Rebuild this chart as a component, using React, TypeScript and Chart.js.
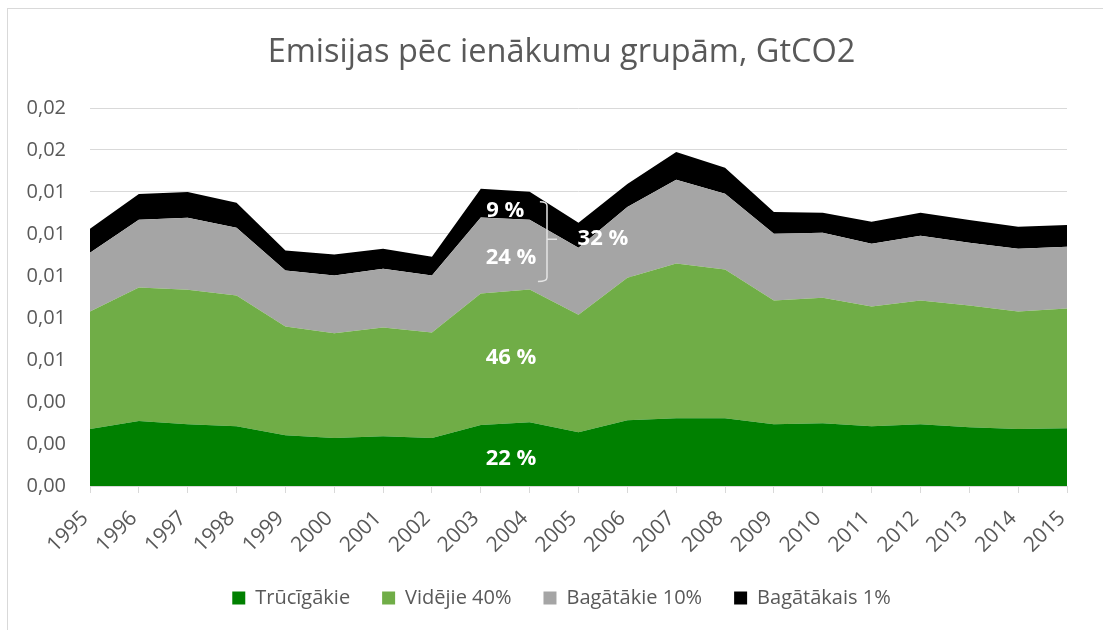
import React, { useEffect, useRef } from "react";
import { Chart, registerables } from "chart.js";

Chart.register(...registerables);

const years = ["1995","1996","1997","1998","1999","2000","2001","2002","2003","2004","2005","2006","2007","2008","2009","2010","2011","2012","2013","2014","2015"];

const trucigakie = [0.00271,0.00309,0.00294,0.00285,0.00242,0.00228,0.00237,0.00228,0.0029,0.00304,0.00256,0.00313,0.00323,0.00323,0.00294,0.00299,0.00285,0.00294,0.0028,0.00271,0.00275];
const videjie40 = [0.0056,0.00636,0.00641,0.00622,0.00518,0.00499,0.00518,0.00503,0.00627,0.00632,0.0056,0.00679,0.00736,0.00708,0.00589,0.00598,0.0057,0.00589,0.00579,0.0056,0.0057];
const bagatakie10 = [0.0028,0.00323,0.00342,0.00323,0.00266,0.00275,0.0028,0.00271,0.00361,0.00332,0.00318,0.00337,0.00399,0.00361,0.00318,0.00309,0.00299,0.00309,0.00299,0.00299,0.00294];
const bagatakais1 = [0.00114,0.00123,0.00123,0.00119,0.00095,0.001,0.00095,0.0009,0.00138,0.00133,0.00119,0.00109,0.00133,0.00123,0.00104,0.00095,0.00104,0.00109,0.00109,0.00104,0.00104];

const seriesNames = ["Trūcīgākie", "Vidējie 40%", "Bagātākie 10%", "Bagātākais 1%"];
const yTickLabels = ["0,00","0,00","0,00","0,01","0,01","0,01","0,01","0,01","0,02","0,02"];

// share annotations (text, x as year index, y as value)
const shareLabels = ["22 %", "46 %", "24 %", "9 %", "32 %"];
const shareLabelX = [8.62, 8.62, 8.62, 8.5, 10.5];
const shareLabelY = [0.00128, 0.00613, 0.01087, 0.0131, 0.01178];

// bracket (x as year index, y as value)
const bracketX = [9.21, 9.355, 9.56];
const bracketY = [0.013533, 0.011752, 0.009734];

const TEXT = "#595959";
const FONT = "'Open Sans', sans-serif";

const annotationPlugin = {
  id: "shareAnnotations",
  afterDatasetsDraw(chart: any) {
    const { ctx, scales } = chart;
    const x = scales.x;
    const y = scales.y;
    ctx.save();
    ctx.fillStyle = "#ffffff";
    ctx.font = `bold 22px ${FONT}`;
    ctx.textAlign = "center";
    ctx.textBaseline = "middle";
    shareLabels.forEach((t, i) => {
      ctx.fillText(t, x.getPixelForValue(shareLabelX[i]), y.getPixelForValue(shareLabelY[i]));
    });
    const xl = x.getPixelForValue(bracketX[0]);
    const xm = x.getPixelForValue(bracketX[1]);
    const xr = x.getPixelForValue(bracketX[2]);
    const yt = y.getPixelForValue(bracketY[0]);
    const ym = y.getPixelForValue(bracketY[1]);
    const yb = y.getPixelForValue(bracketY[2]);
    ctx.strokeStyle = "#e4e4e4";
    ctx.lineWidth = 1.5;
    ctx.beginPath();
    ctx.moveTo(xl, yt);
    ctx.quadraticCurveTo(xm, yt, xm, yt + 4);
    ctx.lineTo(xm, yb - 4);
    ctx.quadraticCurveTo(xm, yb, xl - 2, yb);
    ctx.moveTo(xm, ym);
    ctx.lineTo(xr, ym);
    ctx.stroke();
    ctx.restore();
  },
};

export default function App() {
  const ref = useRef<HTMLCanvasElement>(null);
  useEffect(() => {
    Chart.defaults.font.family = FONT;
    Chart.defaults.color = TEXT;
    const colors = ["#008000", "#70AD47", "#A5A5A5", "#000000"];
    const values = [trucigakie, videjie40, bagatakie10, bagatakais1];
    const chart = new Chart(ref.current!, {
      type: "line",
      data: {
        labels: years,
        datasets: values.map((d, i) => ({
          label: seriesNames[i],
          data: d,
          backgroundColor: colors[i],
          borderColor: colors[i],
          borderWidth: 0,
          pointRadius: 0,
          fill: i === 0 ? "origin" : "-1",
          tension: 0,
        })),
      },
      options: {
        responsive: false,
        animation: false,
        layout: { padding: { left: 0, right: 0, top: 0, bottom: 12 } },
        plugins: {
          title: {
            display: true,
            text: "Emisijas pēc ienākumu grupām, GtCO2",
            color: TEXT,
            font: { size: 32.5, weight: "normal", family: FONT },
            padding: { top: 24.5, bottom: 35.5 },
          },
          legend: {
            position: "bottom",
            labels: {
              boxWidth: 13,
              boxHeight: 13,
              padding: 32,
              color: TEXT,
              font: { size: 20, family: FONT },
            },
          },
          tooltip: { enabled: false },
        },
        scales: {
          x: {
            offset: false,
            grid: { display: true, drawOnChartArea: false, drawTicks: true, tickLength: 7, color: "#d9d9d9" },
            border: { display: true, color: "#d9d9d9" },
            ticks: { autoSkip: false, minRotation: 45, maxRotation: 45, padding: 13, labelOffset: -5, font: { size: 21 }, color: TEXT },
            afterFit: (s: any) => { s.height = 70; },
          },
          y: {
            stacked: true,
            min: 0,
            max: 0.018,
            grid: { color: "#d9d9d9", drawTicks: false },
            border: { display: false },
            ticks: {
              stepSize: 0.002,
              padding: 24,
              font: { size: 20 },
              color: TEXT,
              callback: (_v: any, idx: number) => yTickLabels[idx],
            },
            afterFit: (s: any) => { s.width = 82; },
          },
          y2: {
            position: "right",
            display: true,
            grid: { display: false, drawTicks: false },
            border: { display: false },
            ticks: { display: false },
            afterFit: (s: any) => { s.width = 48; },
          },
        },
      },
      plugins: [annotationPlugin],
    } as any);
    return () => chart.destroy();
  }, []);
  return (
    <div
      style={{
        position: "fixed",
        left: 7,
        top: 8,
        width: 1096,
        height: 622,
        boxSizing: "border-box",
        borderLeft: "1px solid #d9d9d9",
        borderTop: "1px solid #d9d9d9",
        overflow: "hidden",
        background: "#ffffff",
      }}
    >
      <canvas ref={ref} width={1107} height={621} style={{ display: "block", width: 1107, height: 621 }} />
    </div>
  );
}
